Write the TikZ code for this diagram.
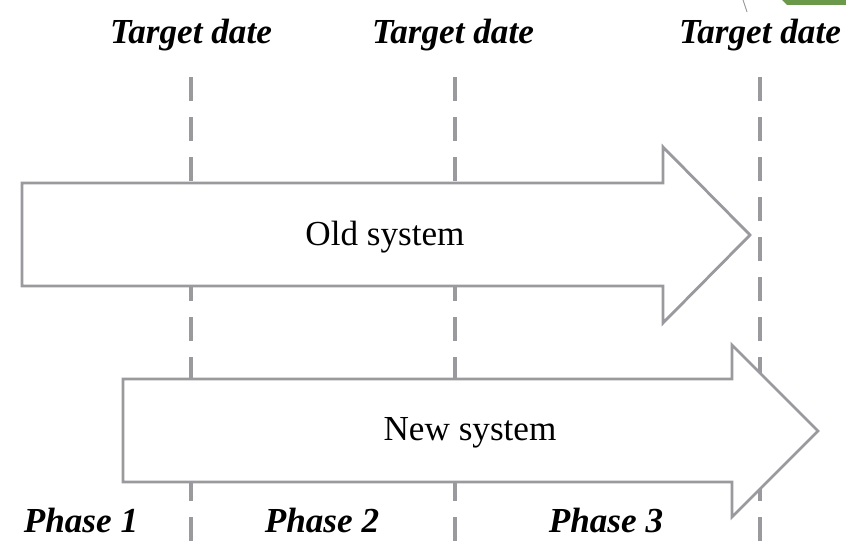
\documentclass[tikz,border=0pt]{standalone}
\usepackage{fontspec}
\setmainfont{Liberation Serif}
\usetikzlibrary{positioning}
\definecolor{linegray}{rgb}{0.6, 0.6, 0.62}
\definecolor{markgreen}{rgb}{0.42, 0.6, 0.29}

\begin{document}
\begin{tikzpicture}[x=0.3mm, y=-0.3mm,
    sysarrow/.style={draw=linegray, line width=2.4pt, fill=white, line join=miter},
    datemark/.style={draw=linegray, line width=2.6pt, dash pattern=on 7.2mm off 4.8mm},
    datelabel/.style={anchor=base, font=\fontsize{30}{35}\selectfont\bfseries\itshape},
    phaselabel/.style={anchor=base, font=\fontsize{30}{35}\selectfont\bfseries\itshape},
    syslabel/.style={anchor=base, font=\fontsize{30}{35}\selectfont}]
            \useasboundingbox (0,0) rectangle (846,544);
            % leftovers of the page edge
            \fill[markgreen] (782,0) -- (846,0) -- (846,5) -- (787,5) -- cycle;
            \draw[linegray, line width=0.8pt] (743,0) -- (747,12);
            % target dates
            \node[datelabel] (date1) at (191,44) {Target date};
            \node[datelabel] (date2) at (453,44) {Target date};
            \node[datelabel] (date3) at (760,44) {Target date};
            \coordinate (end1) at (191,544);
            \coordinate (end2) at (455,544);
            \coordinate (end3) at (760,544);
            \draw[datemark] (191,77) -- (end1);
            \draw[datemark] (455,77) -- (end2);
            \draw[datemark] (760,77) -- (end3);
            % the two systems
            \draw[sysarrow] (22,183) -- (663,183) -- (663,147) -- (750,235)
                -- (663,323) -- (663,286) -- (22,286) -- cycle;
            \draw[sysarrow] (123,379) -- (732,379) -- (732,345) -- (818,431)
                -- (732,517) -- (732,482) -- (123,482) -- cycle;
            \node[syslabel] (old) at (385,245) {Old system};
            \node[syslabel] (new) at (470,440) {New system};
            % phases
            \node[phaselabel] (phase1) at (81,532) {Phase 1};
            \node[phaselabel] (phase2) at (322,532) {Phase 2};
            \node[phaselabel] (phase3) at (606,532) {Phase 3};
        \end{tikzpicture}
\end{document}
